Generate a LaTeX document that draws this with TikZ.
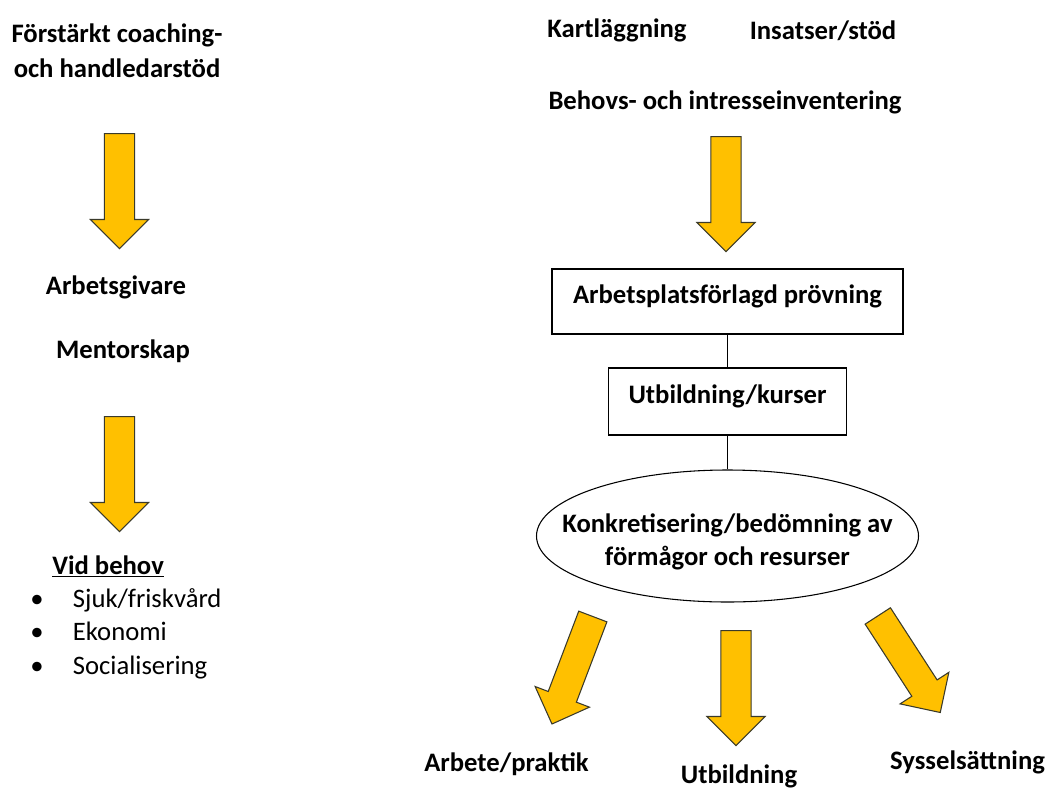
\documentclass[tikz,border=0pt]{standalone}
\usepackage{fontspec}
\setmainfont{Carlito}
\usetikzlibrary{shapes.geometric,shapes.arrows}

\definecolor{arrowgold}{HTML}{FFC000}
\definecolor{arrowline}{HTML}{3A3A2A}

\tikzset{
    lbl/.style={font=\fontsize{20}{24}\selectfont\bfseries, inner sep=0pt, text height=0.7em, text depth=0.2em, yshift=-4.5pt},
    itemlbl/.style={font=\fontsize{20}{24}\selectfont, inner sep=0pt, anchor=west, text height=0.7em, text depth=0.2em, yshift=-4.5pt},
    stepbox/.style={draw, line width=0.8pt, inner sep=0pt, font=\fontsize{20}{24}\selectfont\bfseries, text depth=11pt},
    blockarrow/.style={single arrow, draw=arrowline, fill=arrowgold, line width=0.8pt,
        single arrow head extend=10.5pt, single arrow tip angle=90,
        inner xsep=0pt, inner ysep=10.9pt, minimum height=86.25pt, anchor=tail}
}

\begin{document}
\begin{tikzpicture}[x=0.75pt, y=-0.75pt]

    \useasboundingbox (0,0) rectangle (1051,790);

    % === Left column ===
    \node[align=center, inner sep=0pt, font=\fontsize{20}{26.25}\selectfont\bfseries] (coach) at (117,50.5) {Förstärkt coaching-\\och handledarstöd};

    \node[blockarrow, rotate=-90] (A1) at (119.5,133) {};

    \node[lbl] (arbg) at (116,285) {Arbetsgivare};
    \node[lbl] (ment) at (123,349) {Mentorskap};

    \node[blockarrow, rotate=-90] (A2) at (119.5,416) {};

    % Vid behov list
    \node[lbl, anchor=west] (vid) at (52,565) {\underline{Vid behov}};
    \node[itemlbl] (I1) at (30,598) {\makebox[32pt][l]{\textbullet}Sjuk/friskvård};
    \node[itemlbl] (I2) at (30,631) {\makebox[32pt][l]{\textbullet}Ekonomi};
    \node[itemlbl] (I3) at (30,665) {\makebox[32pt][l]{\textbullet}Socialisering};

    % === Right column ===
    \node[lbl] (kart) at (617,28) {Kartläggning};
    \node[lbl] (insa) at (823,30) {Insatser/stöd};
    \node[lbl] (beho) at (725,100) {Behovs- och intresseinventering};

    \node[blockarrow, rotate=-90] (A3) at (726,136) {};

    \node[stepbox, minimum width=263.25pt, minimum height=48.75pt] (B1) at (727.5,301.5) {Arbetsplatsförlagd prövning};
    \node[stepbox, minimum width=178.5pt, minimum height=50.25pt] (B2) at (727.5,401.5) {Utbildning/kurser};
    \node[ellipse, draw, line width=0.8pt, inner sep=0pt, minimum width=286.5pt, minimum height=99pt,
        label={[align=center, yshift=-4.5pt, font=\fontsize{20}{24.75}\selectfont\bfseries]center:Konkretisering/bedömning av\\förmågor och resurser}] (E) at (727.5,536) {};

    \draw[line width=0.8pt] (B1) -- (B2);
    \draw[line width=0.8pt] (B2) -- (E);

    % Outcomes
    \node[blockarrow, rotate=-110.8] (A4) at (593,616) {};
    \node[blockarrow, rotate=-90] (A5) at (736,630) {};
    \node[blockarrow, rotate=-57.1] (A6) at (877.5,615.5) {};

    \node[lbl] (arbp) at (506.5,762) {Arbete/praktik};
    \node[lbl] (utbi) at (739,774) {Utbildning};
    \node[lbl] (syss) at (967.5,760) {Sysselsättning};

\end{tikzpicture}
\end{document}
